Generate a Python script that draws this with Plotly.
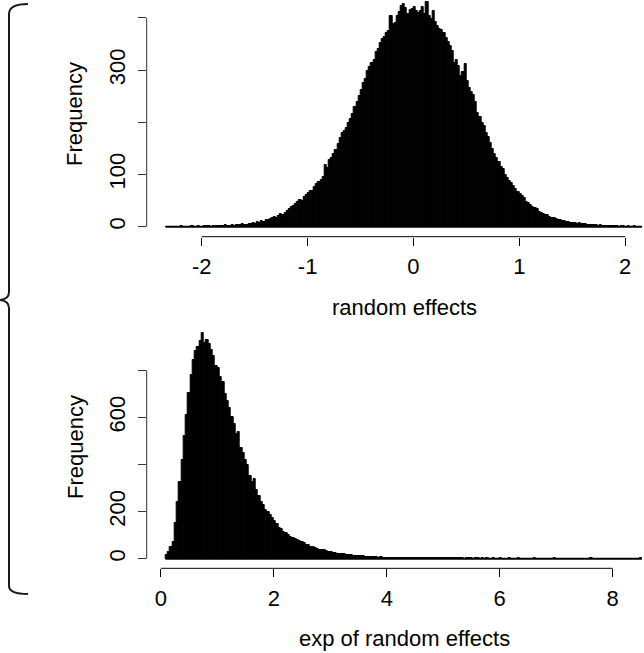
import numpy as np
import plotly.graph_objects as go

# ---------------- data ----------------
# Top histogram: "random effects", bins of width 0.02 starting at -2.34
top_bin_start = -2.34
top_bin_width = 0.02
top_counts = [
    0, 0, 0, 0, 0, 0, 0, 1, 0, 0,
    0, 0, 1, 0, 0, 1, 0, 0, 1, 1,
    1, 0, 1, 2, 1, 1, 2, 1, 3, 2,
    2, 3, 2, 3, 4, 3, 5, 4, 4, 6,
    5, 7, 6, 9, 8, 10, 9, 12, 13, 15,
    16, 18, 17, 21, 24, 23, 27, 30, 33, 38,
    40, 44, 47, 51, 50, 57, 61, 64, 69, 68,
    76, 81, 86, 90, 96, 119, 112, 128, 132, 140,
    147, 158, 170, 180, 184, 190, 199, 207, 216, 230,
    238, 250, 262, 276, 282, 298, 306, 314, 320, 334,
    340, 352, 359, 363, 371, 375, 404, 388, 391, 404,
    412, 423, 426, 419, 407, 416, 417, 420, 414, 410,
    414, 420, 408, 431, 404, 397, 414, 392, 385, 379,
    376, 372, 362, 353, 346, 336, 314, 319, 308, 288,
    296, 311, 279, 266, 258, 253, 238, 218, 210, 199,
    192, 180, 171, 160, 149, 139, 131, 124, 115, 110,
    99, 94, 88, 83, 78, 72, 67, 63, 58, 55,
    48, 46, 42, 38, 35, 33, 29, 27, 24, 22,
    22, 19, 16, 17, 14, 12, 13, 11, 10, 9,
    9, 8, 8, 7, 6, 7, 6, 5, 5, 4,
    4, 3, 4, 3, 2, 3, 2, 2, 1, 2,
    1, 1, 2, 1, 0, 1, 1, 0, 1, 0,
    0, 1, 0, 0, 0,
]
top_xticks = [-2, -1, 0, 1, 2]
top_xticktext = ["-2", "-1", "0", "1", "2"]
top_yticks = [0, 100, 200, 300, 400]
top_yticktext = ["0", "100", "", "300", ""]
top_xlabel = "random effects"

# Bottom histogram: "exp of random effects", bins of width 0.04 starting at 0.08
bot_bin_start = 0.08
bot_bin_width = 0.04
bot_counts = [
    16, 30, 48, 70, 150, 240, 327, 420, 520, 610,
    705, 780, 845, 880, 900, 925, 957, 918, 930, 912,
    885, 862, 820, 808, 770, 752, 700, 668, 640, 603,
    570, 530, 540, 470, 448, 420, 398, 352, 327, 340,
    292, 265, 240, 228, 205, 198, 185, 171, 160, 148,
    129, 124, 112, 108, 100, 94, 87, 84, 78, 76,
    70, 66, 60, 57, 51, 50, 45, 42, 38, 37,
    35, 32, 30, 29, 26, 24, 21, 20, 19, 18,
    17, 16, 15, 13, 12, 11, 11, 10, 9, 8,
    8, 7, 7, 6, 5, 6, 5, 4, 4, 4,
    3, 4, 3, 3, 2, 3, 3, 2, 2, 3,
    2, 2, 3, 2, 2, 1, 2, 2, 2, 1,
    2, 1, 2, 1, 1, 2, 1, 1, 2, 1,
    1, 1, 0, 1, 1, 1, 0, 1, 3, 0,
    1, 0, 1, 0, 0, 1, 0, 0, 1, 0,
    0, 0, 1, 0, 0, 0, 1, 0, 0, 0,
    0, 0, 0, 1, 0, 0, 0, 0, 0, 0,
    0, 0, 1, 0, 0, 0, 0, 0, 0, 0,
    0, 0, 0, 0, 0, 0, 0, 0, 1, 0,
    0, 0, 0, 0, 0, 0, 0, 0, 0, 0,
    0, 0, 0, 0, 0, 0, 0, 0, 0, 0, 1,
]
bot_xticks = [0, 2, 4, 6, 8]
bot_xticktext = ["0", "2", "4", "6", "8"]
bot_yticks = [0, 200, 400, 600, 800]
bot_yticktext = ["0", "200", "", "600", ""]
bot_xlabel = "exp of random effects"
ylabel = "Frequency"

# ---------------- layout geometry (pixels) ----------------
W, H = 644, 653
FONT = "Liberation Sans, Arial, sans-serif"
FS = 22

def px_x(x):
    return x / W

def px_y(y):
    return 1 - y / H

top_edges = top_bin_start + top_bin_width * np.arange(len(top_counts) + 1)
top_centers = top_edges[:-1] + top_bin_width / 2
bot_edges = bot_bin_start + bot_bin_width * np.arange(len(bot_counts) + 1)
bot_centers = bot_edges[:-1] + bot_bin_width / 2

fig = go.Figure()
fig.add_trace(go.Bar(x=top_centers, y=top_counts, width=top_bin_width,
                     marker=dict(color="black", line=dict(color="black", width=1)),
                     xaxis="x", yaxis="y", showlegend=False, hoverinfo="skip"))
fig.add_trace(go.Scatter(x=[top_edges[0], top_edges[-1]], y=[0, 0], mode="lines",
                         line=dict(color="black", width=2), xaxis="x", yaxis="y",
                         showlegend=False, hoverinfo="skip"))
fig.add_trace(go.Bar(x=bot_centers, y=bot_counts, width=bot_bin_width,
                     marker=dict(color="black", line=dict(color="black", width=1)),
                     xaxis="x2", yaxis="y2", showlegend=False, hoverinfo="skip"))
fig.add_trace(go.Scatter(x=[bot_edges[0], bot_edges[-1]], y=[0, 0], mode="lines",
                         line=dict(color="black", width=2), xaxis="x2", yaxis="y2",
                         showlegend=False, hoverinfo="skip"))

AX_LEFT = 146.7
common_x = dict(showgrid=False, zeroline=False, showline=False, ticks="outside",
                ticklen=8, tickwidth=1, tickcolor="black",
                tickfont=dict(family=FONT, size=FS, color="black"),
                ticklabelstandoff=2)
common_y = dict(showgrid=False, zeroline=False, showline=False, ticks="outside",
                ticklen=8, tickwidth=1, tickcolor="#333333", tickangle=-90,
                tickfont=dict(family=FONT, size=FS, color="black"),
                ticklabelstandoff=4)

TOP_AXIS_Y = 236.7
BOT_AXIS_Y = 568.3

fig.update_layout(
    width=W, height=H, autosize=False,
    margin=dict(l=0, r=0, t=0, b=0, pad=0),
    paper_bgcolor="white", plot_bgcolor="white",
    bargap=0, barmode="overlay",
    xaxis=dict(domain=[px_x(AX_LEFT), 1], range=[-2.52, 2.178], anchor="y",
               tickvals=top_xticks, ticktext=top_xticktext, **common_x),
    yaxis=dict(domain=[px_y(TOP_AXIS_Y), 1], range=[-19.2, 434.3], anchor="x",
               tickvals=top_yticks, ticktext=top_yticktext, **common_y),
    xaxis2=dict(domain=[px_x(AX_LEFT), 1], range=[-0.253, 8.556], anchor="y2",
                tickvals=bot_xticks, ticktext=bot_xticktext, **common_x),
    yaxis2=dict(domain=[px_y(BOT_AXIS_Y), px_y(325)], range=[-40.8, 992.4], anchor="x2",
                tickvals=bot_yticks, ticktext=bot_yticktext, **common_y),
)

# R-style axis lines spanning first to last tick
shapes = [
    dict(type="line", xref="x", yref="paper", x0=top_xticks[0], x1=top_xticks[-1],
         y0=px_y(TOP_AXIS_Y), y1=px_y(TOP_AXIS_Y), line=dict(color="black", width=1)),
    dict(type="line", xref="paper", yref="y", x0=px_x(AX_LEFT), x1=px_x(AX_LEFT),
         y0=top_yticks[0], y1=top_yticks[-1], line=dict(color="#333333", width=1)),
    dict(type="line", xref="x2", yref="paper", x0=bot_xticks[0], x1=bot_xticks[-1],
         y0=px_y(BOT_AXIS_Y), y1=px_y(BOT_AXIS_Y), line=dict(color="black", width=1)),
    dict(type="line", xref="paper", yref="y2", x0=px_x(AX_LEFT), x1=px_x(AX_LEFT),
         y0=bot_yticks[0], y1=bot_yticks[-1], line=dict(color="#333333", width=1)),
]

# curly brace on the left
pts = [(28, 4), (9, 4), (9, 14), (9, 292), (9, 299), (0, 300), (9, 301), (9, 308),
       (9, 586), (9, 594), (28, 594)]
def P(p):
    return f"{px_x(p[0]):.5f},{px_y(p[1]):.5f}"
path = (f"M {P(pts[0])} Q {P(pts[1])} {P(pts[2])} L {P(pts[3])} "
        f"Q {P(pts[4])} {P(pts[5])} Q {P(pts[6])} {P(pts[7])} L {P(pts[8])} "
        f"Q {P(pts[9])} {P(pts[10])}")
shapes.append(dict(type="path", xref="paper", yref="paper", path=path,
                   line=dict(color="#1a1a1a", width=2)))
fig.update_layout(shapes=shapes)

ann = [
    dict(text=ylabel, x=px_x(75), y=px_y(114), xref="paper", yref="paper",
         textangle=-90, showarrow=False, xanchor="center", yanchor="middle",
         font=dict(family=FONT, size=FS, color="black")),
    dict(text=ylabel, x=px_x(75), y=px_y(447), xref="paper", yref="paper",
         textangle=-90, showarrow=False, xanchor="center", yanchor="middle",
         font=dict(family=FONT, size=FS, color="black")),
    dict(text=top_xlabel, x=px_x(404), y=px_y(307), xref="paper", yref="paper",
         showarrow=False, xanchor="center", yanchor="middle",
         font=dict(family=FONT, size=FS, color="black")),
    dict(text=bot_xlabel, x=px_x(404), y=px_y(638), xref="paper", yref="paper",
         showarrow=False, xanchor="center", yanchor="middle",
         font=dict(family=FONT, size=FS, color="black")),
]
fig.update_layout(annotations=ann)

fig.write_html("out.html")
